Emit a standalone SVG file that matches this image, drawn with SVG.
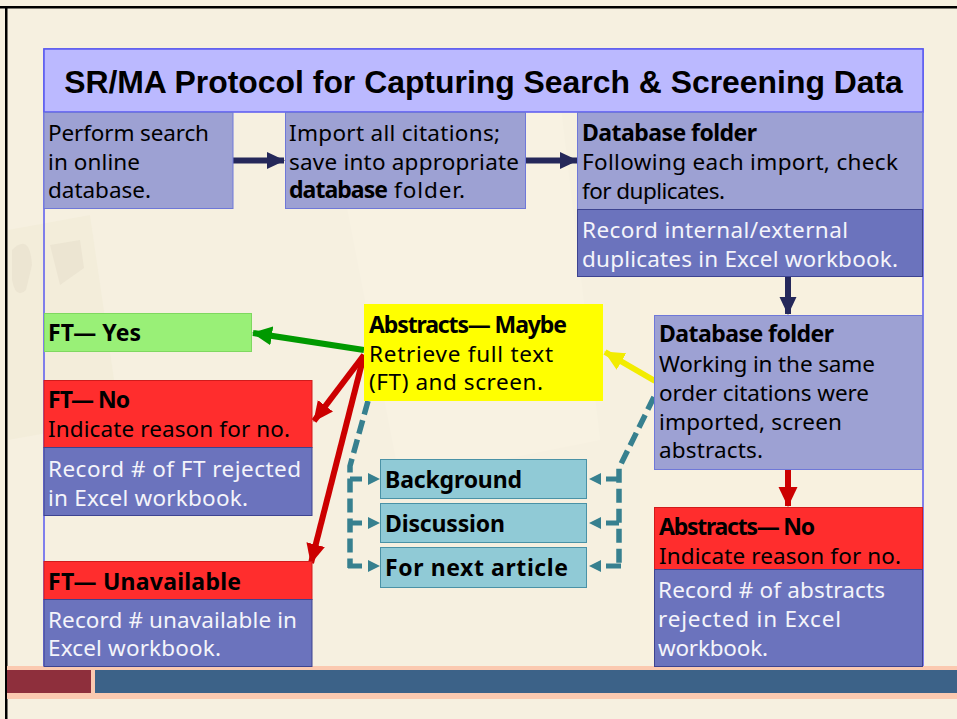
<svg xmlns="http://www.w3.org/2000/svg" width="957" height="719" viewBox="0 0 957 719">
<style>
text{font-family:"Noto Sans","DejaVu Sans",sans-serif;font-size:22.5px;fill:#000}
.b{font-weight:700;font-size:23px}
.w{fill:#f4f4fa}
.t{font-family:"Liberation Sans",Arial,sans-serif;font-size:31.9px;font-weight:700}
.lav{fill:#9da1d3;stroke:#6f78d8;stroke-width:1}
.dk{fill:#6b73bd;stroke:#3d4390;stroke-width:1}
.red{fill:#ff2d2d;stroke:#d01c1c;stroke-width:1}
.teal{fill:#90cad6;stroke:#4a92a6;stroke-width:1}
.dash{fill:none;stroke:#37808f;stroke-width:5.500;stroke-dasharray:14 6}
.tick{fill:none;stroke:#37808f;stroke-width:5}
</style>
<defs>
<marker id="aNavy" markerUnits="userSpaceOnUse" markerWidth="18" markerHeight="18" refX="17" refY="9" orient="auto"><path d="M0 0.500L18 9L0 17.500Z" fill="#25285a"/></marker>
<marker id="aRed" markerUnits="userSpaceOnUse" markerWidth="20" markerHeight="20" refX="19" refY="10" orient="auto"><path d="M0 0.500L20 10L0 19.500Z" fill="#cc0000"/></marker>
<marker id="aGreen" markerUnits="userSpaceOnUse" markerWidth="20" markerHeight="20" refX="19" refY="10" orient="auto"><path d="M0 0.500L20 10L0 19.500Z" fill="#009900"/></marker>
<marker id="aYellow" markerUnits="userSpaceOnUse" markerWidth="20" markerHeight="20" refX="19" refY="10" orient="auto"><path d="M0 0.500L20 10L0 19.500Z" fill="#f2ec00"/></marker>
<path id="aT" d="M0 -6L12 0L0 6Z" fill="#37808f"/>
</defs>
<g id="background">
<rect width="957" height="719" fill="#f6f0e0"/>
<path d="M8 230L90 215L120 420L8 440Z" fill="#f3edda"/>
<path d="M330 120L560 100L600 440L400 480Z" fill="#f8f2e2"/>
<path d="M12 250Q30 232 32 265L26 290Q16 300 12 280Z" fill="#ece5d2"/>
<path d="M50 245L80 240L84 268L60 285Z" fill="#ece5d2"/>
<path d="M640 100L922 95V660H640Z" fill="#f8f1df"/>
<rect y="6" width="957" height="2.500" fill="#000"/>
<rect x="5" y="6" width="2.500" height="713" fill="#000"/>
</g>
<g id="frame"><rect x="44" y="49" width="879" height="618" fill="none" stroke="#5a5af0" stroke-width="1.500"/></g>
<g id="footer">
<rect x="7" y="666" width="950" height="33" fill="#fbc9b0"/>
<rect x="7" y="670" width="84" height="23" fill="#8e2f3c"/>
<rect x="95" y="670" width="862" height="23" fill="#3c6288"/>
</g>
<g id="title"><rect x="44" y="49" width="879" height="63" fill="#bbb9ff" stroke="#5a5af0" stroke-width="1.500"/><text class="t" x="483.500" y="93" text-anchor="middle">SR/MA Protocol for Capturing Search &amp; Screening Data</text></g>
<g id="connectors">
<path d="M233 160.500H284" stroke="#25285a" stroke-width="6" marker-end="url(#aNavy)" fill="none"/>
<path d="M526 160.500H577" stroke="#25285a" stroke-width="6" marker-end="url(#aNavy)" fill="none"/>
<path d="M788 277V314" stroke="#25285a" stroke-width="6" marker-end="url(#aNavy)" fill="none"/>
<path d="M788 470V506" stroke="#cc0000" stroke-width="6" marker-end="url(#aRed)" fill="none"/>
<path d="M364 350L253 333" stroke="#009900" stroke-width="6" marker-end="url(#aGreen)" fill="none"/>
<path d="M364 355L314 421" stroke="#cc0000" stroke-width="6" marker-end="url(#aRed)" fill="none"/>
<path d="M364 355L311 563" stroke="#cc0000" stroke-width="6" marker-end="url(#aRed)" fill="none"/>
<path d="M655 381L605 352" stroke="#f2ec00" stroke-width="6" marker-end="url(#aYellow)" fill="none"/>
<path class="dash" d="M368 401L350 466V568"/>
<path class="dash" d="M654 397L619 468V568"/>
<g id="tealTicks">
<path class="tick" d="M350 479H362M350 523H362M348 566H362M619 479H606M619 523H606M621 566H606"/>
<use href="#aT" x="368" y="479"/><use href="#aT" x="368" y="523"/><use href="#aT" x="368" y="566"/>
<use href="#aT" transform="translate(601 479) rotate(180)"/><use href="#aT" transform="translate(601 523) rotate(180)"/><use href="#aT" transform="translate(601 566) rotate(180)"/>
</g>
</g>
<g id="perform-search"><rect class="lav" x="44" y="112.500" width="189" height="96"/><text x="48" y="141" textLength="161">Perform search</text><text x="48" y="170" textLength="92">in online</text><text x="48" y="198" textLength="103">database.</text></g>
<g id="import-citations"><rect class="lav" x="285.500" y="112.500" width="240" height="96"/><text x="289" y="141" textLength="211">Import all citations;</text><text x="289" y="170" textLength="230">save into appropriate</text><text x="289" y="198"><tspan class="b" textLength="99">database</tspan><tspan x="394" textLength="71">folder.</tspan></text></g>
<g id="database-folder-1"><rect class="lav" x="577.500" y="112.500" width="345" height="97"/><text x="582" y="141" class="b" textLength="175">Database folder</text><text x="582" y="170" textLength="316">Following each import, check</text><text x="582" y="199" textLength="143">for duplicates.</text></g>
<g id="record-duplicates"><rect class="dk" x="577.500" y="209.500" width="345" height="67"/><text class="w" x="582" y="238" textLength="266">Record internal/external</text><text class="w" x="582" y="267" textLength="316">duplicates in Excel workbook.</text></g>
<g id="ft-yes"><rect x="44.500" y="313.500" width="207" height="38" fill="#99f077" stroke="#7fd860"/><text class="b" x="48" y="341" textLength="93">FT— Yes</text></g>
<g id="abstracts-maybe"><rect x="364" y="304" width="239" height="97" fill="#ffff00"/><text class="b" x="369" y="333" textLength="198">Abstracts— Maybe</text><text x="369" y="362" textLength="184">Retrieve full text</text><text x="369" y="390" textLength="174">(FT) and screen.</text></g>
<g id="database-folder-2"><rect class="lav" x="654.500" y="315.500" width="268" height="154"/><text class="b" x="659" y="342" textLength="175">Database folder</text><text x="659" y="372" textLength="216">Working in the same</text><text x="659" y="401" textLength="210">order citations were</text><text x="659" y="430" textLength="183">imported, screen</text><text x="659" y="458" textLength="104">abstracts.</text></g>
<g id="ft-no"><rect class="red" x="44" y="380.500" width="268" height="67"/><text class="b" x="48" y="408" textLength="82">FT— No</text><text x="48" y="437" textLength="242">Indicate reason for no.</text></g>
<g id="record-ft-rejected"><rect class="dk" x="44" y="447.500" width="268" height="68"/><text class="w" x="48" y="477" textLength="253">Record # of FT rejected</text><text class="w" x="48" y="506" textLength="200">in Excel workbook.</text></g>
<g id="background-box"><rect class="teal" x="380.500" y="459.500" width="206" height="39"/><text class="b" x="385" y="488" textLength="137">Background</text></g>
<g id="discussion-box"><rect class="teal" x="380.500" y="503.500" width="206" height="39"/><text class="b" x="385" y="532" textLength="120">Discussion</text></g>
<g id="next-article-box"><rect class="teal" x="380.500" y="547.500" width="206" height="40"/><text class="b" x="385" y="576" textLength="183">For next article</text></g>
<g id="abstracts-no"><rect class="red" x="654.500" y="507.500" width="268" height="62"/><text class="b" x="659" y="535" textLength="156">Abstracts— No</text><text x="659" y="564" textLength="242">Indicate reason for no.</text></g>
<g id="record-abstracts"><rect class="dk" x="654.500" y="569.500" width="268" height="97"/><text class="w" x="658" y="598" textLength="227">Record # of abstracts</text><text class="w" x="658" y="627" textLength="183">rejected in Excel</text><text class="w" x="658" y="656" textLength="110">workbook.</text></g>
<g id="ft-unavailable"><rect class="red" x="44" y="561.500" width="268" height="38"/><text class="b" x="48" y="590" textLength="193">FT— Unavailable</text></g>
<g id="record-unavailable"><rect class="dk" x="44" y="599.500" width="268" height="67"/><text class="w" x="48" y="628" textLength="249">Record # unavailable in</text><text class="w" x="48" y="656" textLength="173">Excel workbook.</text></g>
</svg>
